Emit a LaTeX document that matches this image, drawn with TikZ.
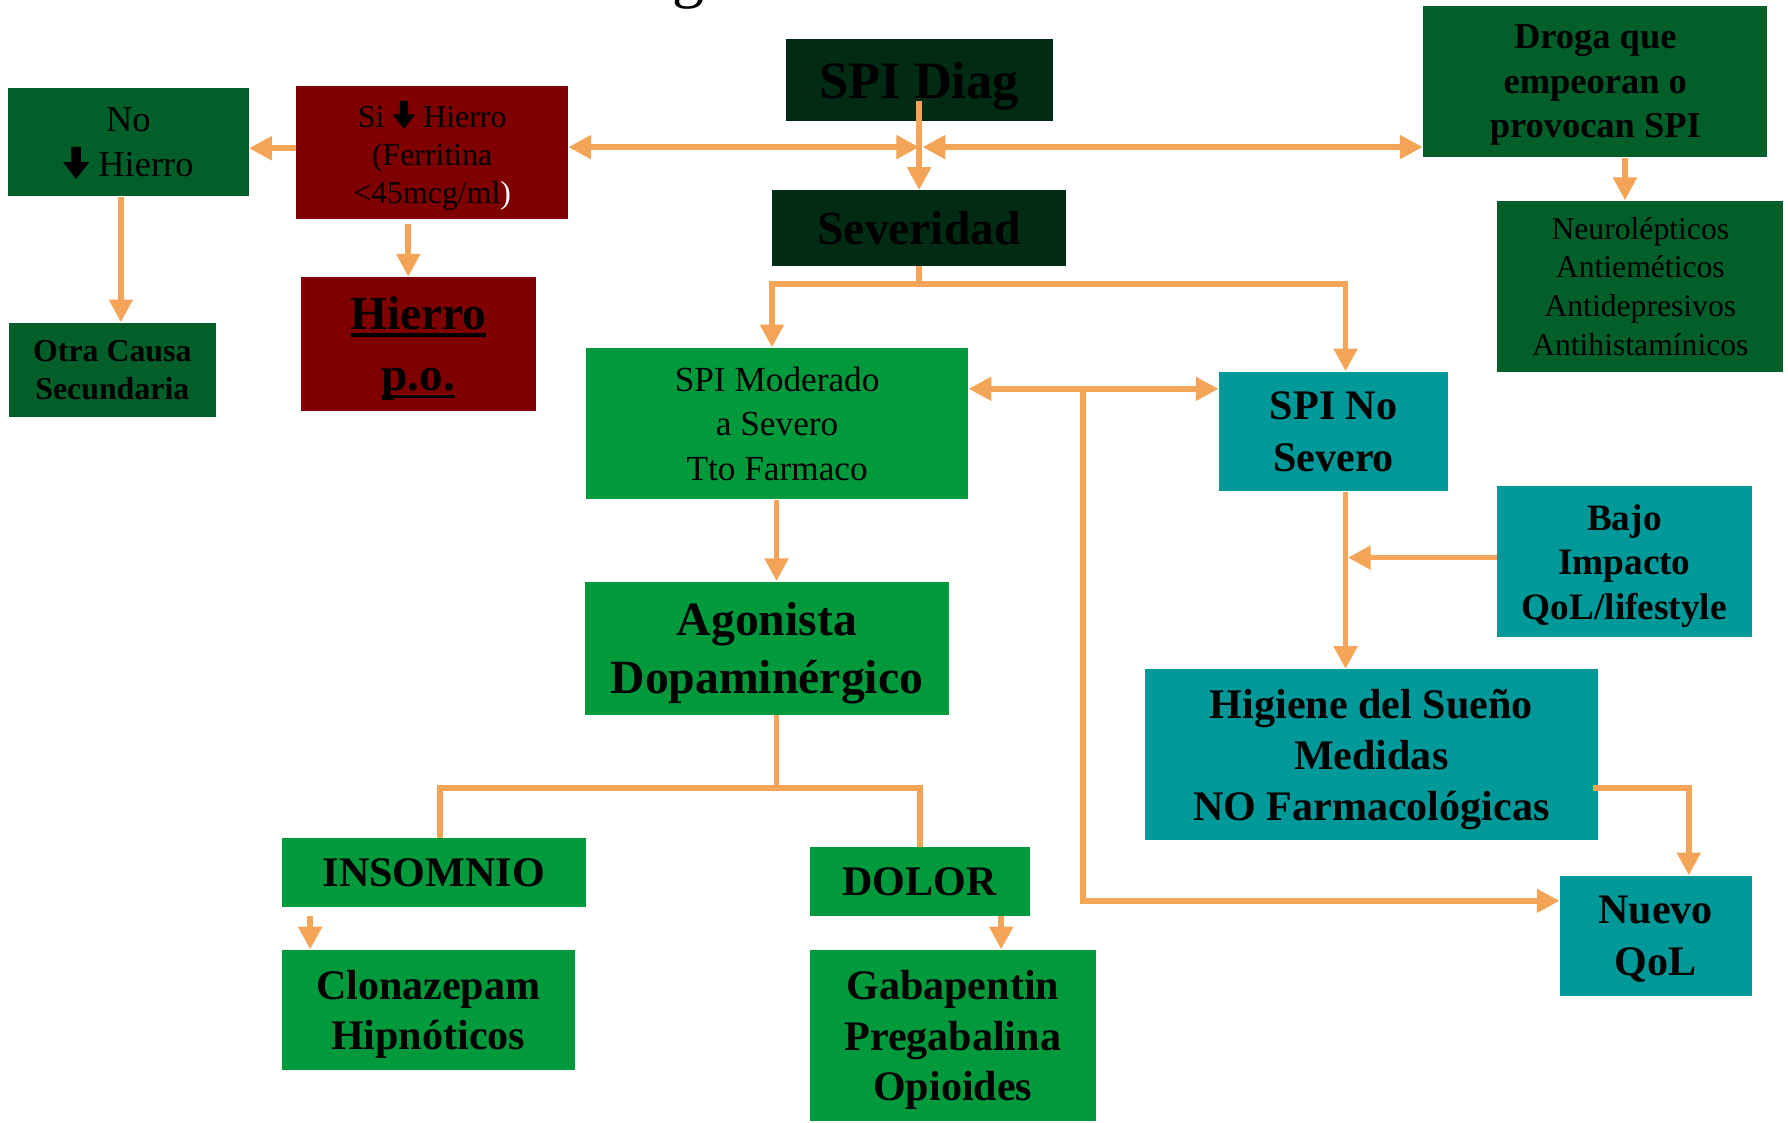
\documentclass[tikz,border=0pt]{standalone}
\usepackage{fontspec}
\setmainfont{Liberation Serif}
\usepackage{xcolor}
\usetikzlibrary{arrows.meta,calc,positioning}

\definecolor{verdeoscuro}{HTML}{012B12}
\definecolor{verde}{HTML}{025F29}
\definecolor{rojo}{HTML}{7F0000}
\definecolor{verdeclaro}{HTML}{009A3D}
\definecolor{turquesa}{HTML}{009999}
\definecolor{naranja}{HTML}{F4A457}

\newcommand{\tam}[2]{\fontsize{#1}{#2}\selectfont}
\newcommand{\flechaabajo}{\tikz[baseline=0pt]\fill[black] (-0.13em,0.82em) -- (0.13em,0.82em) -- (0.13em,0.4em) -- (0.36em,0.4em) -- (0em,-0.06em) -- (-0.36em,0.4em) -- (-0.13em,0.4em) -- cycle;}
\newcommand{\subrayado}[1]{\setbox0=\hbox{#1}\rlap{\rule[-0.15em]{\wd0}{0.075em}}\box0}

\tikzset{
	caja/.style n args={3}{rectangle, fill=#1, minimum width=#2*0.02cm, minimum height=#3*0.02cm, inner sep=0pt, align=center, text=black, text depth=0pt},
	flecha/.style={draw=naranja, line width=0.1cm},
}

\begin{document}
\begin{tikzpicture}[x=0.02cm, y=-0.02cm, >={Triangle[width=0.4cm,length=0.4cm]}]
		\useasboundingbox (0,0) rectangle (1568,984);
		\node[anchor=base, font=\tam{32pt}{36pt}] (titulo) at (604,-4) {g};
		% fila superior
		\node[caja={verdeoscuro}{234}{72}, font=\bfseries\tam{26.2pt}{31pt}] (diag) at (806,70) {SPI Diag};
		\node[caja={verdeoscuro}{258}{66}, font=\bfseries\tam{23.7pt}{28pt}] (sev) at (806,200) {Severidad};
		\node[caja={verde}{302}{133}, font=\bfseries\tam{18.2pt}{22.2pt}] (droga) at (1399,71.5) {Droga que\\empeoran o\\provocan SPI};
		\node[caja={verde}{251}{150}, font=\tam{15.8pt}{19.3pt}] (neuro) at (1438.5,251) {Neurolépticos\\Antieméticos\\Antidepresivos\\Antihistamínicos};
		\node[caja={verde}{211}{95}, font=\tam{18.2pt}{22.8pt}] (nohierro) at (112.5,124.5) {No\\\flechaabajo\ Hierro};
		\node[caja={rojo}{238}{117}, font=\tam{15.9pt}{19.1pt}] (sihierro) at (379,133.5) {Si \flechaabajo\ Hierro\\(Ferritina\\<45mcg/ml\textcolor{white}{)}};
		\node[caja={rojo}{206}{117}, font=\bfseries\tam{23.6pt}{30.7pt}] (hierropo) at (367,301.5) {\subrayado{Hierro}\\\subrayado{p.o.}};
		\node[caja={verde}{181}{83}, font=\bfseries\tam{15.9pt}{19.3pt}] (otra) at (98.5,324.5) {Otra Causa\\Secundaria};
		% rama farmacologica
		\node[caja={verdeclaro}{335}{133}, font=\tam{17.6pt}{22.2pt}] (moderado) at (681.5,371.5) {SPI Moderado\\a Severo\\Tto Farmaco};
		\node[caja={verdeclaro}{319}{117}, font=\bfseries\tam{23.8pt}{29pt}] (agonista) at (672.5,568.5) {Agonista\\Dopaminérgico};
		\node[caja={verdeclaro}{267}{60}, font=\bfseries\tam{21pt}{25.3pt}] (insomnio) at (380.5,765) {INSOMNIO};
		\node[caja={verdeclaro}{193}{60}, font=\bfseries\tam{21pt}{25.3pt}] (dolor) at (806.5,773) {DOLOR};
		\node[caja={verdeclaro}{257}{105}, font=\bfseries\tam{21pt}{25.3pt}] (clonaz) at (375.5,885.5) {Clonazepam\\Hipnóticos};
		\node[caja={verdeclaro}{251}{150}, font=\bfseries\tam{21pt}{25.3pt}] (gaba) at (835.5,908) {Gabapentin\\Pregabalina\\Opioides};
		% rama no severa
		\node[caja={turquesa}{201}{105}, font=\bfseries\tam{21pt}{25.6pt}] (nosevero) at (1169.5,378.5) {SPI No\\Severo};
		\node[caja={turquesa}{223}{133}, font=\bfseries\tam{18.6pt}{22.2pt}] (bajo) at (1424.5,492.5) {Bajo\\Impacto\\QoL/lifestyle};
		\node[caja={turquesa}{397}{150}, font=\bfseries\tam{21pt}{25.3pt}] (higiene) at (1202.5,662) {Higiene del Sueño\\Medidas\\NO Farmacológicas};
		\node[caja={turquesa}{168}{105}, font=\bfseries\tam{21pt}{25.6pt}] (nuevo) at (1452,820.5) {Nuevo\\QoL};
		% conectores
		\coordinate (cruce) at (806,129);
		\coordinate (rama) at (950,341);
		\coordinate (junta) at (1182,489);
		\draw[flecha,->] ($(diag.south)+(0,-18)$) -- (sev.north);
		\draw[flecha,<->] (sihierro.east |- cruce) -- (cruce);
		\draw[flecha,<->] ($(cruce)+(3,0)$) -- (droga.west |- cruce);
		\draw[flecha,->] (sihierro.west |- {0,130}) -- (nohierro.east |- {0,130});
		\draw[flecha,->] (nohierro.south -| {106,0}) -- (otra.north -| {106,0});
		\draw[flecha,->] ($(sihierro.south -| {358,0})+(0,4)$) -- (hierropo.north -| {358,0});
		\draw[flecha,->] (droga.south -| {1425,0}) -- (neuro.north -| {1425,0});
		\draw[flecha,->] (sev.south) -- ++(0,16) -| (moderado.north -| {677,0});
		\draw[flecha,->] (sev.south) -- ++(0,16) -| (nosevero.north -| {1180,0});
		\draw[flecha,<->] (moderado.east |- rama) -- (nosevero.west |- rama);
		\draw[flecha,->] (rama) |- (nuevo.west |- {0,790});
		\draw[flecha,->] (moderado.south -| {681,0}) -- (agonista.north -| {681,0});
		\draw[flecha] (agonista.south -| {681,0}) -- ({681,691});
		\draw[flecha] (insomnio.north -| {386,0}) |- (dolor.north |- {0,691}) -- (dolor.north);
		\draw[flecha,->] ($(insomnio.south -| {272,0})+(0,8)$) -- (clonaz.north -| {272,0});
		\draw[flecha,->] (dolor.south -| {878,0}) -- (gaba.north -| {878,0});
		\draw[flecha,->] (nosevero.south -| {1180,0}) -- (higiene.north -| {1180,0});
		\draw[flecha,->] (bajo.west |- junta) -- (junta);
		\draw[flecha,->] ($(higiene.east |- {0,691})+(-4,0)$) -| (nuevo.north -| {1481,0});
	\end{tikzpicture}
\end{document}
